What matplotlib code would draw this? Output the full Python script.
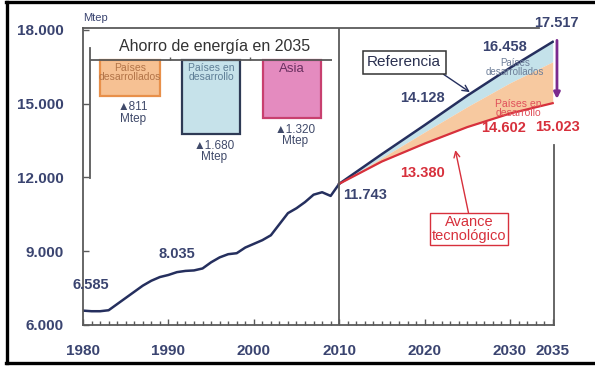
import matplotlib
matplotlib.use('Agg')
import matplotlib.pyplot as plt
from matplotlib.lines import Line2D

plt.rcParams['font.family'] = ['Liberation Sans', 'DejaVu Sans']

# Demanda histórica de energía primaria (Mtep)
anios_hist = list(range(1980, 2011))
demanda_hist = [6585, 6560, 6560, 6600, 6850, 7100, 7350, 7600, 7800, 7950,
                8035, 8150, 8200, 8220, 8300, 8550, 8750, 8880, 8920, 9150,
                9300, 9450, 9650, 10100, 10550, 10750, 11000, 11300, 11400, 11250,
                11743]

# Proyecciones 2010-2035
anios_proy = [2010, 2015, 2020, 2025, 2030, 2035]
referencia = [11743, 12950, 14128, 15330, 16458, 17517]
sin_desarrollados = [11743, 12800, 13850, 14880, 15850, 16706]
avance_tec = [11743, 12650, 13380, 14050, 14602, 15023]

# Ahorro de energía en 2035 por región
regiones = ['Países\ndesarrollados', 'Países en\ndesarrollo', 'Asia']
ahorro = [811, 1680, 1320]

azul = '#252F5E'
rojo = '#D7303C'
gris = '#5A5A5A'
txt = '#3A4470'


def fmt(v):
    return f'{v:,}'.replace(',', '.')


fig = plt.figure(figsize=(5.95, 3.66), dpi=100)
ax = fig.add_axes([83 / 595, 41 / 366, 471.4 / 595, 297 / 366])
ax.set_xlim(1980, 2035.2)
ax.set_ylim(6000, 18080)

ax.fill_between(anios_proy, sin_desarrollados, referencia, color='#C4E2EA', lw=0)
ax.fill_between(anios_proy, avance_tec, sin_desarrollados, color='#F7C9A0', lw=0)
ax.plot(anios_hist, demanda_hist, color=azul, lw=1.8)
ax.plot(anios_proy, referencia, color=azul, lw=1.8)
ax.plot(anios_proy, avance_tec, color=rojo, lw=1.6)
ax.axvline(2010, color=gris, lw=1.3)

for s in ax.spines.values():
    s.set_color(gris)
    s.set_linewidth(1.3)
ax.spines['top'].set_bounds(1980, 2033.4)
ax.spines['right'].set_bounds(6000, 13320)

ax.set_yticks([6000, 9000, 12000, 15000, 18000])
ax.set_yticklabels([fmt(v) for v in [6000, 9000, 12000, 15000, 18000]])
ax.set_xticks([1980, 1990, 2000, 2010, 2020, 2030, 2035])
ax.set_xticks(range(1980, 2036), minor=True)
ax.tick_params(axis='both', which='both', direction='in', color=gris, width=1)
ax.tick_params(axis='y', length=4, pad=14, labelsize=11, labelcolor=txt)
ax.tick_params(axis='x', which='major', length=4, pad=14, labelsize=11, labelcolor=txt)
ax.tick_params(axis='x', which='minor', length=3)
for lab in ax.get_xticklabels() + ax.get_yticklabels():
    lab.set_fontweight('bold')

ax.text(1980, 18500, 'Mtep', fontsize=8, color=txt, ha='left', va='center', clip_on=False)

# Etiquetas de valores
bold = dict(fontsize=10.5, fontweight='bold', clip_on=False)
ax.text(1980.9, 7626, fmt(demanda_hist[0]), color=txt, ha='center', va='center', **bold)
ax.text(1991.0, 8886, fmt(demanda_hist[10]), color=txt, ha='center', va='center', **bold)
ax.text(2010.5, 11285, fmt(demanda_hist[-1]), color=txt, ha='left', va='center', **bold)
ax.text(2019.8, 15228, fmt(referencia[2]), color=txt, ha='center', va='center', **bold)
ax.text(2029.3, 17301, fmt(referencia[4]), color=txt, ha='center', va='center', **bold)
ax.text(2035.4, 18276, fmt(referencia[5]), color=txt, ha='center', va='center', **bold)
ax.text(2019.8, 12179, fmt(avance_tec[2]), color=rojo, ha='center', va='center', **bold)
ax.text(2029.2, 14008, fmt(avance_tec[4]), color=rojo, ha='center', va='center', **bold)
ax.text(2035.6, 14049, fmt(avance_tec[5]), color=rojo, ha='center', va='center', **bold)

ax.text(2030.6, 16488, 'Países\ndesarrollados', fontsize=7, color='#6E7F99',
        ha='center', va='center', linespacing=0.9)
ax.text(2031.0, 14821, 'Países en\ndesarrollo', fontsize=7.5, color='#E0505A',
        ha='center', va='center', linespacing=0.9)

# Cajas con flechas
ax.annotate('Referencia', xy=(2025.3, 15472), xytext=(2017.6, 16691),
            fontsize=11, color='#2A3050', ha='center', va='center',
            bbox=dict(boxstyle='square,pad=0.3', fc='white', ec='#333333', lw=1.1),
            arrowprops=dict(arrowstyle='->', color=azul, lw=1, shrinkA=0, shrinkB=0,
                            relpos=(0.93, 0)))
ax.annotate('Avance\ntecnológico', xy=(2023.6, 13114), xytext=(2025.2, 9902),
            fontsize=10.5, color=rojo, ha='center', va='center', linespacing=0.95,
            bbox=dict(boxstyle='square,pad=0.15', fc='white', ec=rojo, lw=1),
            arrowprops=dict(arrowstyle='->', color=rojo, lw=1, shrinkA=0, shrinkB=0,
                            relpos=(0.5, 1)))
ax.annotate('', xy=(2035.5, referencia[5] - sum(ahorro[:2]) + 170), xytext=(2035.5, referencia[5] + 60),
            arrowprops=dict(arrowstyle='-|>', color='#7B2A8E', lw=2, mutation_scale=9,
                            shrinkA=0, shrinkB=0),
            annotation_clip=False)

# Recuadro de ahorro por región
axi = fig.add_axes([90 / 595, 188 / 366, 242 / 595, 130 / 366])
axi.set_xlim(-0.494, 2.494)
axi.set_ylim(2676, -272)
axi.patch.set_alpha(0)
for k in ['top', 'right', 'bottom']:
    axi.spines[k].set_visible(False)
axi.spines['left'].set_color(gris)
axi.spines['left'].set_linewidth(1.3)
axi.set_xticks([])
axi.set_yticks([])
axi.axhline(0, color=gris, lw=1.3)
axi.vlines([0.494, 1.48], 0, -70, color=gris, lw=1)

rellenos = ['#F6C193', '#C6E2EA', '#E48BBF']
bordes = ['#E8904A', '#2E3A55', '#C8406F']
txt_barras = ['#B27448', '#5E7E96', '#6A3060']
barras = axi.bar(range(3), ahorro, width=[0.74, 0.72, 0.72], bottom=0,
                 color=rellenos, edgecolor=bordes, linewidth=1.6)
for i, (r, v) in enumerate(zip(regiones, ahorro)):
    if r == 'Asia':
        axi.text(i, 60, r, fontsize=9.5, color=txt_barras[i], ha='center', va='top')
    else:
        axi.text(i, 60, r, fontsize=7.5, color=txt_barras[i], ha='center', va='top',
                 linespacing=0.95)
    axi.annotate('▲' + fmt(v) + '\nMtep', xy=(i + 0.04, v), xytext=(0, -4),
                 textcoords='offset points', fontsize=8.5, color='#404A6A',
                 ha='center', va='top', linespacing=0.95)

fig.text(215 / 595, 1 - 47 / 366, 'Ahorro de energía en 2035', fontsize=11.5,
         color='#333333', ha='center', va='center')

# Marco exterior
for xs, ys in [([6, 595], [363, 363]), ([6, 595], [2, 2]), ([7, 7], [2, 363])]:
    fig.add_artist(Line2D([x / 595 for x in xs], [1 - y / 366 for y in ys],
                          color='black', lw=2.4))

fig.savefig('out.png', dpi=100)
